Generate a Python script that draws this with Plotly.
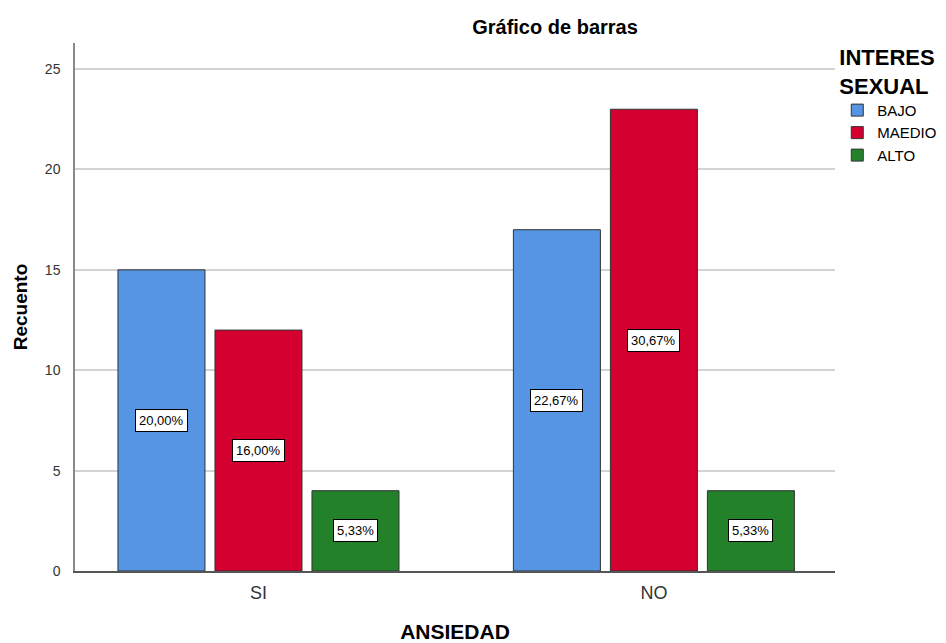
import plotly.graph_objects as go

categories = ["SI", "NO"]
series_names = ["BAJO", "MAEDIO", "ALTO"]
bajo = [15, 17]
maedio = [12, 23]
alto = [4, 4]
pct_bajo = ["20,00%", "22,67%"]
pct_maedio = ["16,00%", "30,67%"]
pct_alto = ["5,33%", "5,33%"]

colors = ["#5595E4", "#D40030", "#23812A"]
values = [bajo, maedio, alto]
pcts = [pct_bajo, pct_maedio, pct_alto]
FONT = "Liberation Sans, Arial"

# page body has an 8px margin; figure is sized to fit the window
W, H = 938, 635

fig = go.Figure()
for name, vals, col in zip(series_names, values, colors):
    fig.add_trace(go.Bar(
        name=name, x=categories, y=vals,
        marker=dict(color=col, line=dict(color="#333333", width=1)),
        hoverinfo="skip",
    ))

slot = 97  # px between bar centers within group
annotations = []
for i, (vals, labs) in enumerate(zip(values, pcts)):
    for cat, v, lab in zip(categories, vals, labs):
        annotations.append(dict(
            x=cat, y=v / 2, xref="x", yref="y", text=lab, showarrow=False,
            xshift=(i - 1) * slot,
            font=dict(family=FONT, size=13, color="black"),
            bgcolor="white", bordercolor="black", borderwidth=1, borderpad=3,
        ))

fig.update_layout(
    width=W, height=H,
    margin=dict(l=67, r=111, t=35, b=72, autoexpand=False),
    paper_bgcolor="white", plot_bgcolor="white",
    barmode="group", bargap=0.264, bargroupgap=0.103,
    title=dict(text="<b>Gráfico de barras</b>", x=547 / W, xanchor="center",
               xref="container", y=1 - 19 / H, yanchor="middle", yref="container",
               font=dict(family=FONT, size=20, color="black")),
    showlegend=True,
    legend=dict(
        title=dict(text="<b>INTERES<br>SEXUAL</b>", side="top",
                   font=dict(family=FONT, size=22, color="black")),
        font=dict(family=FONT, size=15, color="black"),
        x=1.003, xanchor="left", y=1.012, yanchor="top",
        itemwidth=30, tracegroupgap=0, bgcolor="rgba(0,0,0,0)",
    ),
    annotations=annotations,
)

fig.update_xaxes(
    type="category", range=[-0.464, 1.458], automargin=False,
    showline=True, linecolor="#555555", linewidth=1.5,
    ticks="", ticklabelstandoff=5,
    tickfont=dict(family=FONT, size=18, color="#333333"),
    title=dict(text="<b>ANSIEDAD</b>", standoff=32,
               font=dict(family=FONT, size=21, color="black")),
    showgrid=False,
)
fig.update_yaxes(
    range=[0, 26.3], tickvals=[0, 5, 10, 15, 20, 25], automargin=False,
    showline=True, linecolor="#888888", linewidth=1.5,
    showgrid=True, gridcolor="#D3D3D3", gridwidth=1.5,
    ticks="", ticklabelstandoff=10,
    tickfont=dict(family=FONT, size=14, color="#333333"),
    title=dict(text="<b>Recuento</b>", standoff=12,
               font=dict(family=FONT, size=19, color="black")),
    zeroline=False,
)

fig.write_html("out.html")
